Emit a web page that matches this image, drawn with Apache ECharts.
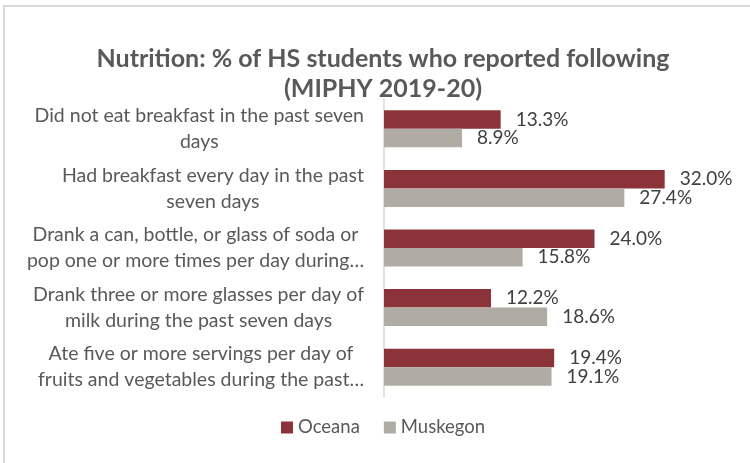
<!DOCTYPE html>
<html>
<head>
<meta charset="utf-8">
<script src="https://cdn.jsdelivr.net/npm/echarts@6/dist/echarts.min.js"></script>
<style>
  html, body { margin: 0; padding: 0; background: #fff; }
  #chart { width: 750px; height: 463px; }
</style>
</head>
<body>
<div id="chart"></div>
<script>
// 数据
const categories = [
    'Did not eat breakfast in the past seven\ndays',
    'Had breakfast every day in the past\nseven days',
    'Drank a can, bottle, or glass of soda or\npop one or more times per day during\u2026',
    'Drank three or more glasses per day of\nmilk during the past seven days',
    'Ate five or more servings per day of\nfruits and vegetables during the past\u2026'
];
const oceana = [13.3, 32.0, 24.0, 12.2, 19.4];
const muskegon = [8.9, 27.4, 15.8, 18.6, 19.1];
const seriesNames = ['Oceana', 'Muskegon'];

const FONT = 'Lato';
const TEXT_COLOR = '#595959';

var chart = echarts.init(document.getElementById('chart'));

// 数据标签
function barLabel() {
    return {
        show: true,
        position: 'right',
        distance: 15,
        formatter: p => p.value.toFixed(1) + '%',
        fontFamily: FONT,
        fontSize: 19,
        color: '#404040'
    };
}

var option = {
    backgroundColor: '#fff',
    animation: false,
    title: {
        text: 'Nutrition: % of HS students who reported following\n(MIPHY 2019-20)',
        left: 378,
        textAlign: 'center',
        top: 39,
        textStyle: {
            fontFamily: FONT,
            fontSize: 25,
            fontWeight: 'bold',
            color: TEXT_COLOR,
            lineHeight: 30
        }
    },
    graphic: [{
        type: 'rect',
        shape: { x: 4, y: 6, width: 800, height: 500 },
        style: { fill: 'none', stroke: '#D9D9D9', lineWidth: 2 },
        silent: true
    }],
    legend: {
        data: seriesNames,
        bottom: 21,
        left: 276,
        itemWidth: 12,
        itemHeight: 12,
        itemGap: 24,
        icon: 'rect',
        textStyle: {
            fontFamily: FONT,
            fontSize: 18.5,
            color: TEXT_COLOR
        }
    },
    grid: {
        left: 384,
        right: 59,
        top: 99,
        bottom: 66
    },
    xAxis: {
        type: 'value',
        min: 0,
        max: 35,
        show: false
    },
    yAxis: {
        type: 'category',
        data: categories,
        inverse: true,
        axisTick: { show: false },
        axisLine: {
            lineStyle: { color: '#D9D9D9', width: 1.5 }
        },
        axisLabel: {
            margin: 20,
            formatter: function (v) {
                return v.split('\n').map(l => '{c|' + l + '}').join('\n');
            },
            rich: {
                c: {
                    align: 'center',
                    fontFamily: FONT,
                    fontSize: 19.5,
                    color: TEXT_COLOR,
                    lineHeight: 26
                }
            }
        }
    },
    series: [{
        name: seriesNames[0],
        type: 'bar',
        data: oceana,
        barWidth: 18.5,
        barGap: '0%',
        itemStyle: { color: '#8C3339' },
        label: barLabel()
    }, {
        name: seriesNames[1],
        type: 'bar',
        data: muskegon,
        barWidth: 18.5,
        barGap: '0%',
        itemStyle: { color: '#B0ACA4' },
        label: barLabel()
    }]
};

chart.setOption(option);
</script>
</body>
</html>
